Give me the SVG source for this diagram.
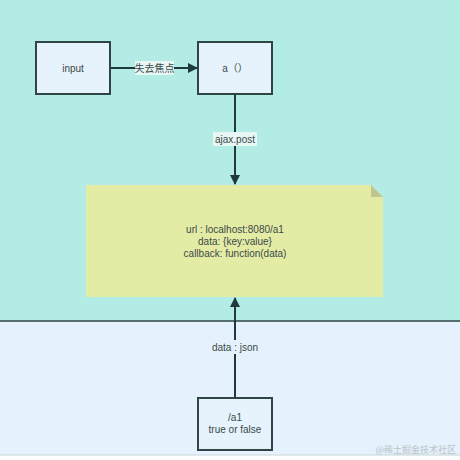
<svg xmlns="http://www.w3.org/2000/svg" width="460" height="460" viewBox="0 0 460 460">
<defs>
<style>
.box{fill:#E6F2FC;stroke:#2E4445;stroke-width:2}
.t{font-family:"Liberation Sans","Noto Sans CJK SC",sans-serif;font-size:10px;fill:#3A4A4A;text-anchor:middle}
.ln{stroke:#203A3C;stroke-width:2;fill:none}
.lbl{fill:#E8F6F4}
</style>
<marker id="ah" markerWidth="10" markerHeight="10" refX="9" refY="5" orient="auto" markerUnits="userSpaceOnUse">
<path d="M0,0 L10,5 L0,10 Z" fill="#203A3C"/>
</marker>
</defs>
<rect x="0" y="0" width="460" height="321" fill="#B2ECE5"/>
<rect x="0" y="321" width="460" height="134" fill="#E5F1FC"/>
<rect x="0" y="455" width="460" height="5" fill="#FFFFFF"/>
<line x1="0" y1="321" x2="460" y2="321" stroke="#2E4445" stroke-width="1.5"/>
<line x1="0" y1="455" x2="460" y2="455" stroke="#C8D4D8" stroke-width="1"/>
<g id="connectors">
<line class="ln" x1="110" y1="68" x2="197" y2="68" marker-end="url(#ah)"/>
<rect class="lbl" x="135" y="61" width="39" height="14"/>
<text class="t" x="154.5" y="72">失去焦点</text>
<line class="ln" x1="235" y1="94" x2="235" y2="184" marker-end="url(#ah)"/>
<rect class="lbl" x="213" y="132" width="44" height="14"/>
<text class="t" x="235" y="143">ajax.post</text>
<line class="ln" x1="235" y1="397" x2="235" y2="298" marker-end="url(#ah)"/>
<rect x="210" y="340" width="50" height="14" fill="#E5F1FC"/>
<text class="t" x="235" y="351">data : json</text>
</g>
<g id="input">
<rect class="box" x="36" y="42" width="74" height="52"/>
<text class="t" x="73" y="72">input</text>
</g>
<g id="a">
<rect class="box" x="198" y="42" width="74" height="52"/>
<text class="t" x="235" y="72">a（）</text>
</g>
<g id="note">
<path d="M86,185 L371,185 L383,197 L383,297 L86,297 Z" fill="#E4EBA5"/>
<path d="M371,185 L383,197 L371,197 Z" fill="#BFC58C"/>
<text class="t" x="235" y="233">url : localhost:8080/a1</text>
<text class="t" x="235" y="245">data: {key:value}</text>
<text class="t" x="235" y="257">callback: function(data)</text>
</g>
<g id="a1">
<rect class="box" x="198" y="398" width="74" height="52"/>
<text class="t" x="235" y="421">/a1</text>
<text class="t" x="235" y="433">true or false</text>
</g>
<text x="456" y="453" font-family="'Noto Sans CJK SC',sans-serif" font-size="9" fill="#B8C4C8" text-anchor="end">@稀土掘金技术社区</text>
</svg>
